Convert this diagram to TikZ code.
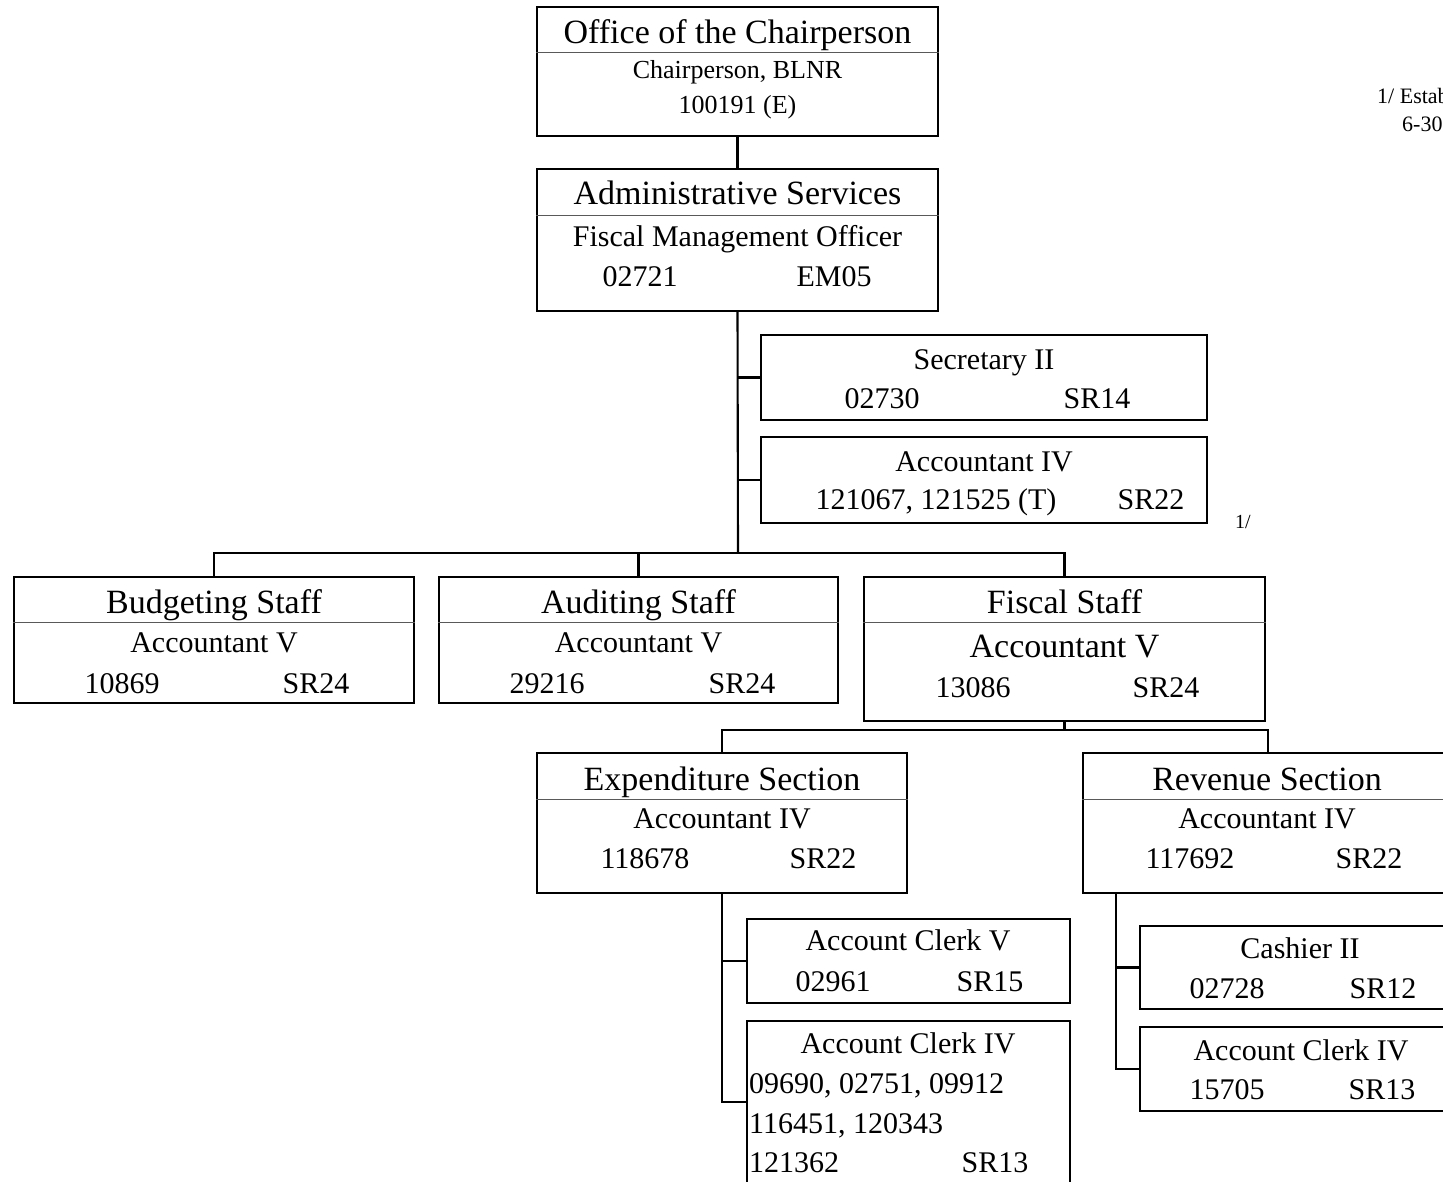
\documentclass[tikz,border=0pt]{standalone}
\usepackage{fontspec}
\setmainfont{Liberation Serif}
\begin{document}
\begin{tikzpicture}[x=1pt,y=-1pt,
  obox/.style={draw, rectangle, line width=1.8pt, inner sep=0pt},
  div/.style={line width=0.9pt, draw=black!65},
  conn/.style={line width=2.1pt},
  tl/.style={inner sep=0pt, anchor=base, font=\fontsize{34}{40}\selectfont},
  tx/.style={inner sep=0pt, anchor=base, font=\fontsize{30}{36}\selectfont},
  ts/.style={inner sep=0pt, anchor=base, font=\fontsize{26}{30}\selectfont},
  fn/.style={inner sep=0pt, anchor=base west, font=\fontsize{22}{26}\selectfont},
  fs/.style={inner sep=0pt, anchor=base west, font=\fontsize{20}{24}\selectfont}]
\useasboundingbox (0,0) rectangle (1443,1181);
\clip (0,0) rectangle (1443,1181);
\newcommand\obox[5]{\node[obox, minimum width={#4-#2}, minimum height={#5-#3}] (#1) at ({(#2+#4)/2},{(#3+#5)/2}) {};}
% boxes
\obox{office}{537}{7}{938}{136}
\obox{admin}{537}{169}{938}{311}
\obox{sec}{761}{335}{1207}{420}
\obox{acc}{761}{437}{1207}{523}
\obox{budget}{14}{577}{414}{703}
\obox{audit}{439}{577}{838}{703}
\obox{fiscal}{864}{577}{1265}{721}
\obox{exp}{537}{753}{907}{893}
\obox{rev}{1083}{753}{1453}{893}
\obox{acv}{747}{919}{1070}{1003}
\obox{acfe}{747}{1021}{1070}{1183}
\obox{cash}{1140}{926}{1463}{1009}
\obox{acfr}{1140}{1027}{1463}{1111}
% dividers
\draw[div] (office.west |- 0,52) -- (office.east |- 0,52);
\draw[div] (admin.west |- 0,215) -- (admin.east |- 0,215);
\draw[div] (budget.west |- 0,622) -- (budget.east |- 0,622);
\draw[div] (audit.west |- 0,622) -- (audit.east |- 0,622);
\draw[div] (fiscal.west |- 0,622) -- (fiscal.east |- 0,622);
\draw[div] (exp.west |- 0,799) -- (exp.east |- 0,799);
\draw[div] (rev.west |- 0,799) -- (rev.east |- 0,799);
% junctions
\coordinate (ja) at (738,553);
\coordinate (jf) at (1064.5,730);
\coordinate (jr) at (1116,893);
% connectors
\draw[conn] (office.south) -- (admin.north);
\draw[conn] (admin.south) -- (ja);
\draw[conn] (admin.south |- sec.west) -- (sec.west);
\draw[conn] (admin.south |- acc.west) -- (acc.west);
\draw[conn] (budget.north) -- (budget.north |- ja) -- (fiscal.north |- ja) -- (fiscal.north);
\draw[conn] (audit.north) -- (audit.north |- ja);
\draw[conn] (fiscal.south) -- (jf);
\draw[conn] (exp.north) -- (exp.north |- jf) -- (rev.north |- jf) -- (rev.north);
\draw[conn] (exp.south) -- (exp.south |- acfe.west) -- (acfe.west);
\draw[conn] (exp.south |- acv.west) -- (acv.west);
\draw[conn] (jr) -- (jr |- acfr.west) -- (acfr.west);
\draw[conn] (jr |- cash.west) -- (cash.west);
% texts
\node[tl] (t1) at (737.5,43) {Office of the Chairperson};
\node[ts] (t2) at (737.5,78) {Chairperson, BLNR};
\node[ts] (t3) at (737.5,113) {100191 (E)};
\node[tl] (t4) at (737.5,204) {Administrative Services};
\node[tx] (t5) at (737.5,246) {Fiscal Management Officer};
\node[tx] (t6) at (640,286) {02721};
\node[tx] (t7) at (834,286) {EM05};
\node[tx] (t8) at (984,369) {Secretary II};
\node[tx] (t9) at (882,408) {02730};
\node[tx] (t10) at (1097,408) {SR14};
\node[tx] (t11) at (984,471) {Accountant IV};
\node[tx] (t12) at (936,509) {121067, 121525 (T)};
\node[tx] (t13) at (1151,509) {SR22};
\node[fs] (t14) at (1235,528) {1/};
\node[fn] (t15) at (1377,103) {1/ Estab};
\node[fn] (t16) at (1402,131) {6-30};
\node[tl] (t17) at (214,613) {Budgeting Staff};
\node[tx] (t18) at (214,652) {Accountant V};
\node[tx] (t19) at (122,693) {10869};
\node[tx] (t20) at (316,693) {SR24};
\node[tl] (t21) at (638.5,613) {Auditing Staff};
\node[tx] (t22) at (638.5,652) {Accountant V};
\node[tx] (t23) at (547,693) {29216};
\node[tx] (t24) at (742,693) {SR24};
\node[tl] (t25) at (1064.5,613) {Fiscal Staff};
\node[tl] (t26) at (1064.5,657) {Accountant V};
\node[tx] (t27) at (973,697) {13086};
\node[tx] (t28) at (1166,697) {SR24};
\node[tl] (t29) at (722,790) {Expenditure Section};
\node[tx] (t30) at (722,828) {Accountant IV};
\node[tx] (t31) at (645,868) {118678};
\node[tx] (t32) at (823,868) {SR22};
\node[tl] (t33) at (1267,790) {Revenue Section};
\node[tx] (t34) at (1267,828) {Accountant IV};
\node[tx] (t35) at (1190,868) {117692};
\node[tx] (t36) at (1369,868) {SR22};
\node[tx] (t37) at (908,950) {Account Clerk V};
\node[tx] (t38) at (833,991) {02961};
\node[tx] (t39) at (990,991) {SR15};
\node[tx] (t40) at (908,1053) {Account Clerk IV};
\node[tx, anchor=base west] (t41) at (749,1093) {09690, 02751, 09912};
\node[tx, anchor=base west] (t42) at (749,1133) {116451, 120343};
\node[tx, anchor=base west] (t43) at (749,1172) {121362};
\node[tx] (t44) at (995,1172) {SR13};
\node[tx] (t45) at (1300,958) {Cashier II};
\node[tx] (t46) at (1227,998) {02728};
\node[tx] (t47) at (1383,998) {SR12};
\node[tx] (t48) at (1301,1060) {Account Clerk IV};
\node[tx] (t49) at (1227,1099) {15705};
\node[tx] (t50) at (1382,1099) {SR13};
\end{tikzpicture}
\end{document}
